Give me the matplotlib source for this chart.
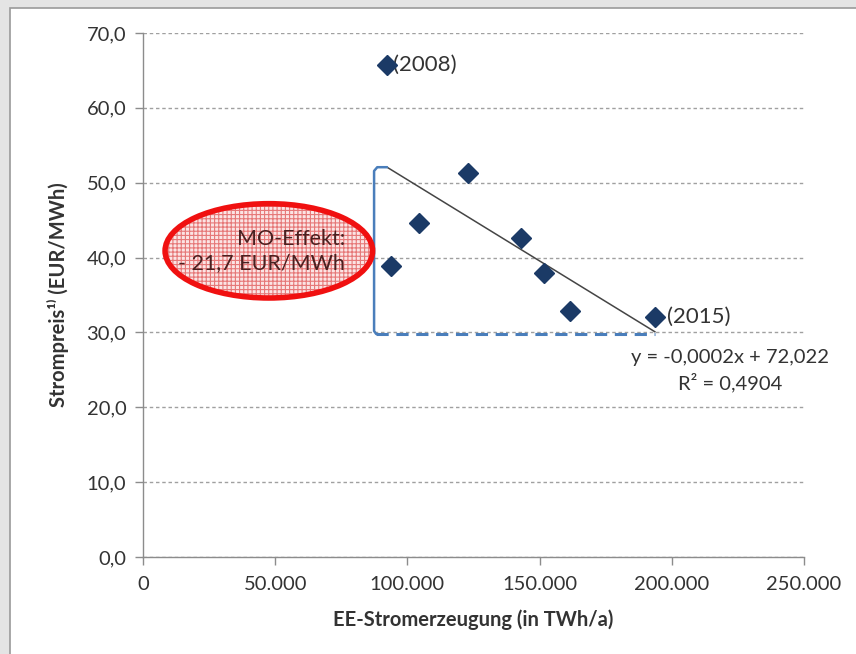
import numpy as np
import matplotlib
matplotlib.use("Agg")
import matplotlib.pyplot as plt
from matplotlib.patches import Ellipse, Rectangle
from matplotlib.ticker import FuncFormatter

# ---- data ----
ee_generation = [92300, 93800, 104400, 122900, 143000, 151700, 161500, 193600]   # TWh/a (as shown on axis)
price = [65.7, 38.9, 44.6, 51.3, 42.6, 37.9, 32.9, 32.1]                          # EUR/MWh
point_labels = {0: "(2008)", 7: "(2015)"}
trend_slope = -0.000217
trend_intercept = 72.10
equation_text = "y = -0,0002x + 72,022\nR² = 0,4904"
mo_text = "MO-Effekt:\n- 21,7 EUR/MWh"
x_ticks = [0, 50000, 100000, 150000, 200000, 250000]
y_ticks = [0, 10, 20, 30, 40, 50, 60, 70]

plt.rcParams['font.family'] = ['Lato', 'DejaVu Sans']
plt.rcParams['hatch.linewidth'] = 0.8
TXT = '#333333'

fig = plt.figure(figsize=(8.56, 6.54), dpi=100)
fig.patch.set_facecolor('#e4e4e4')
panel = Rectangle((10/856, -0.02), 1.0, (654-8)/654 + 0.02, transform=fig.transFigure,
                  facecolor='white', edgecolor='#9a9a9a', lw=1.2, zorder=-10)
fig.patches.append(panel)

ax = fig.add_axes([143/856, 1-557/654, (804-143)/856, (557-33)/654])
ax.set_facecolor('none')
ax.set_xlim(0, 250000)
ax.set_ylim(0, 70)
ax.set_xticks(x_ticks)
ax.set_yticks(y_ticks)
ax.xaxis.set_major_formatter(FuncFormatter(lambda v, p: f"{int(v):,}".replace(",", ".")))
ax.yaxis.set_major_formatter(FuncFormatter(lambda v, p: f"{v:.1f}".replace(".", ",")))
for s in ['top', 'right']:
    ax.spines[s].set_visible(False)
for s in ['left', 'bottom']:
    ax.spines[s].set_color('#8c8c8c')
    ax.spines[s].set_linewidth(1.0)
ax.tick_params(axis='both', colors='#8c8c8c', labelcolor=TXT, labelsize=14.5, length=6, width=1, direction='out')
ax.tick_params(axis='x', pad=8)
ax.tick_params(axis='y', pad=6)
ax.grid(axis='y', color='#a0a0a0', linestyle=(0, (2.5, 2)), lw=1)
ax.set_axisbelow(True)

ax.set_xlabel("EE-Stromerzeugung (in TWh/a)", fontsize=14.5, fontweight='bold', color=TXT)
ax.set_ylabel("Strompreis¹⁾ (EUR/MWh)", fontsize=14.5, fontweight='bold', color=TXT)
ax.yaxis.set_label_coords(-0.112, 0.5)
ax.xaxis.set_label_coords(0.5, -0.10)

# trend line from first (2008) to last (2015) point
x0, x1 = ee_generation[0], ee_generation[-1]
tx = np.array([x0, x1])
ty = trend_intercept + trend_slope * tx
ax.plot(tx, ty, color='#454545', lw=1.1, zorder=3)

# points
ax.plot(ee_generation, price, linestyle='none', marker='D', markersize=10.5,
        color='#1b3a66', zorder=5)
label_offsets = {0: 4, 7: 9}
for i, lab in point_labels.items():
    ax.annotate(lab, (ee_generation[i], price[i]), xytext=(label_offsets[i], 0), textcoords='offset points',
                ha='left', va='center', fontsize=16, color=TXT)

# bracket
bx = 87400
btop, bbot = ty[0], ty[1] - 0.3
bcol = '#4a7ebb'
ax.plot([x0, bx + 1200, bx, bx, bx + 800], [btop, btop, btop - 0.5, bbot + 0.4, bbot],
        color=bcol, lw=1.8, zorder=4, solid_capstyle='round')
ax.plot([bx + 800, x1], [bbot, bbot], color=bcol, lw=2.2, linestyle=(0, (4, 2.5)), zorder=4)
bmid = (btop + bbot) / 2
ax.plot([bx - 4600, bx], [bmid, bmid], color=bcol, lw=1.2, zorder=4)

# ellipse with MO effect
ecx, ecy = 47600, 40.9
ell_fill = Ellipse((ecx, ecy), 78500, 12.6, facecolor='#fbe4e4', edgecolor='#e67878',
                   hatch='++++', lw=0, zorder=4)
ax.add_patch(ell_fill)
ell_edge = Ellipse((ecx, ecy), 78500, 12.6, facecolor='none', edgecolor='#f01010', lw=4, zorder=5)
ax.add_patch(ell_edge)
ax.text(76500, ecy, mo_text, ha='right', va='center', fontsize=15.5, color='#4a2020',
        linespacing=1.25, zorder=6, multialignment='right')

# equation
ax.text(222000, 24.9, equation_text, ha='center', va='center', fontsize=14.5, color=TXT,
        linespacing=1.4, multialignment='center')

fig.savefig("out.png", dpi=100, facecolor=fig.get_facecolor())
